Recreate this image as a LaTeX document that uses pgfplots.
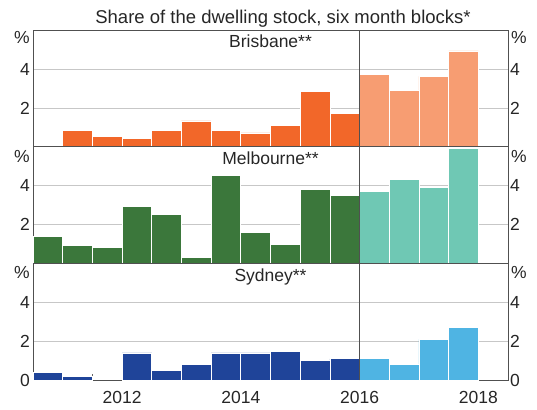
\documentclass[border=0pt]{standalone}
\usepackage{pgfplots}
\pgfplotsset{compat=1.18}
\usepackage{fontspec}
\setmainfont{Liberation Sans}
\definecolor{brisD}{HTML}{F26729}
\definecolor{brisL}{HTML}{F79D72}
\definecolor{melD}{HTML}{3B773B}
\definecolor{melL}{HTML}{6FC8B4}
\definecolor{sydD}{HTML}{1F4499}
\definecolor{sydL}{HTML}{4FB4E3}
\definecolor{frame}{HTML}{505050}
\newcommand{\tfont}{\fontsize{17.5}{18}\selectfont}
\pgfplotsset{
  panel/.style={
    width=475pt, height=116.7pt, scale only axis,
    xmin=2010.5, xmax=2018.5, ymin=0, ymax=6,
    ytick={2,4}, ymajorgrids,
    grid style={black!22, line width=0.6pt},
    major tick length=0pt,
    axis line style={frame, line width=0.7pt},
    ybar, bar width=0.5, bar shift=0pt,
    tick label style={font=\tfont, text=black!85},
    /pgf/number format/assume math mode=true,
    yticklabel style={inner sep=0pt, xshift=-3pt},
    xtick=\empty,
    clip=false,
    anchor=south west,
  },
  rpanel/.style={
    width=475pt, height=116.7pt, scale only axis,
    xmin=2010.5, xmax=2018.5, ymin=0, ymax=6,
    ytick={2,4}, major tick length=0pt,
    hide x axis, axis y line*=right,
    axis line style={draw=none},
    tick label style={font=\tfont, text=black!85},
    /pgf/number format/assume math mode=true,
    yticklabel style={inner sep=0pt, xshift=2pt},
    clip=false,
    anchor=south west,
  },
  bstyle/.style={draw=white, line width=0.7pt, fill=#1},
}
\pgfplotstableread{
x y
2011.25 0.83
2011.75 0.52
2012.25 0.41
2012.75 0.83
2013.25 1.33
2013.75 0.83
2014.25 0.71
2014.75 1.12
2015.25 2.83
2015.75 1.71
}\brisA
\pgfplotstableread{
x y
2016.25 3.72
2016.75 2.91
2017.25 3.62
2017.75 4.93
}\brisB
\pgfplotstableread{
x y
2010.75 1.41
2011.25 0.91
2011.75 0.81
2012.25 2.92
2012.75 2.51
2013.25 0.31
2013.75 4.52
2014.25 1.61
2014.75 0.99
2015.25 3.80
2015.75 3.50
}\melA
\pgfplotstableread{
x y
2016.25 3.70
2016.75 4.31
2017.25 3.93
2017.75 5.93
}\melB
\pgfplotstableread{
x y
2010.75 0.41
2011.25 0.20
2012.25 1.40
2012.75 0.51
2013.25 0.82
2013.75 1.40
2014.25 1.40
2014.75 1.50
2015.25 1.00
2015.75 1.10
}\sydA
\pgfplotstableread{
x y
2016.25 1.10
2016.75 0.80
2017.25 2.10
2017.75 2.70
}\sydB
\begin{document}
\begin{tikzpicture}
\useasboundingbox (0pt,0pt) rectangle (537pt,409pt);
\node[font=\fontsize{18.5}{19}\selectfont, text=black!85, anchor=base] at (283pt,385pt) {Share of the dwelling stock, six month blocks*};
% Brisbane
\begin{axis}[panel, at={(33pt,262.2pt)}]
  \addplot[bstyle=brisD] table[x=x,y=y] {\brisA};
  \addplot[bstyle=brisL] table[x=x,y=y] {\brisB};
  \draw[frame, line width=0.7pt] (axis cs:2016,0) -- (axis cs:2016,6);
  \node[font=\tfont, text=black!85, anchor=north, inner sep=0pt] at (rel axis cs:0.5,1) [yshift=-5pt] {Brisbane**};
  \node[font=\tfont, text=black!85, anchor=north east, inner sep=0pt] at (rel axis cs:0,1) [xshift=-3pt,yshift=-1pt] {\%};
  \node[font=\tfont, text=black!85, anchor=north west, inner sep=0pt] at (rel axis cs:1,1) [xshift=3pt,yshift=-1pt] {\%};
\end{axis}
\begin{axis}[rpanel, at={(33pt,262.2pt)}]
\end{axis}
% Melbourne
\begin{axis}[panel, at={(33pt,145.5pt)}]
  \addplot[bstyle=melD] table[x=x,y=y] {\melA};
  \addplot[bstyle=melL] table[x=x,y=y] {\melB};
  \draw[frame, line width=0.7pt] (axis cs:2016,0) -- (axis cs:2016,6);
  \node[font=\tfont, text=black!85, anchor=north, inner sep=0pt] at (rel axis cs:0.5,1) [yshift=-5pt] {Melbourne**};
  \node[font=\tfont, text=black!85, anchor=north east, inner sep=0pt] at (rel axis cs:0,1) [xshift=-3pt,yshift=-3pt] {\%};
  \node[font=\tfont, text=black!85, anchor=north west, inner sep=0pt] at (rel axis cs:1,1) [xshift=3pt,yshift=-3pt] {\%};
\end{axis}
\begin{axis}[rpanel, at={(33pt,145.5pt)}]
\end{axis}
% Sydney
\begin{axis}[panel, at={(33pt,28.8pt)}, ytick={0,2,4},
  xtick={2011.5,2012.5,...,2017.5}, xticklabels={},
  xtick pos=bottom, tick align=inside,
  xtick style={black!60, line width=0.7pt},
  xmajorgrids=false,
  x tick style={/pgfplots/major tick length=6pt},
  extra x ticks={2012,2014,2016,2018},
  extra x tick labels={2012,2014,2016,2018},
  extra x tick style={major tick length=0pt, xticklabel style={inner sep=0pt, yshift=-11pt}},
  ]
  \addplot[bstyle=sydD] table[x=x,y=y] {\sydA};
  \addplot[bstyle=sydL] table[x=x,y=y] {\sydB};
  \draw[frame, line width=0.7pt] (axis cs:2016,0) -- (axis cs:2016,6);
  \node[font=\tfont, text=black!85, anchor=north, inner sep=0pt] at (rel axis cs:0.5,1) [yshift=-5pt] {Sydney**};
  \node[font=\tfont, text=black!85, anchor=north east, inner sep=0pt] at (rel axis cs:0,1) [xshift=-3pt,yshift=-3pt] {\%};
  \node[font=\tfont, text=black!85, anchor=north west, inner sep=0pt] at (rel axis cs:1,1) [xshift=3pt,yshift=-3pt] {\%};
\end{axis}
\begin{axis}[rpanel, at={(33pt,28.8pt)}, ytick={0,2,4}]
\end{axis}
\end{tikzpicture}
\end{document}
